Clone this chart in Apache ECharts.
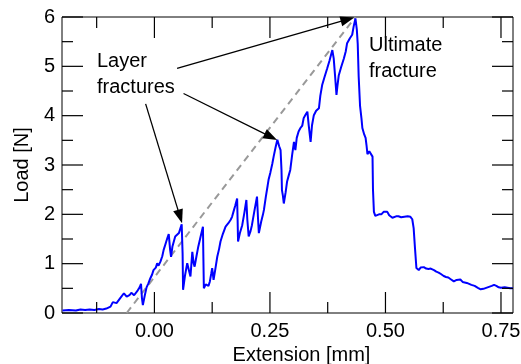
<!DOCTYPE html>
<html>
<head>
<meta charset="utf-8">
<script src="https://cdn.jsdelivr.net/npm/echarts@6/dist/echarts.min.js"></script>
<style>
  html, body { margin: 0; padding: 0; background: #fff; }
  #chart { width: 521px; height: 364px; }
</style>
</head>
<body>
<div id="chart"></div>
<script>
// load–extension trace
var extension = [
  -0.199, -0.185, -0.170, -0.160, -0.150, -0.140, -0.130, -0.120, -0.112, -0.104,
  -0.100, -0.095, -0.090, -0.086, -0.082, -0.078, -0.074, -0.070, -0.066, -0.063,
  -0.060, -0.057, -0.054, -0.050, -0.047, -0.044, -0.040, -0.036, -0.032, -0.029,
  -0.027, -0.025, -0.021, -0.017, -0.013, -0.009, -0.005, -0.002, 0.003, 0.006,
  0.009, 0.013, 0.017, 0.020, 0.024, 0.028, 0.031, 0.034, 0.036, 0.039,
  0.042, 0.045, 0.049, 0.053, 0.056, 0.059, 0.061, 0.062, 0.066, 0.071,
  0.075, 0.078, 0.082, 0.085, 0.087, 0.091, 0.095, 0.100, 0.105, 0.106,
  0.107, 0.111, 0.114, 0.117, 0.120, 0.123, 0.125, 0.128, 0.132, 0.136,
  0.140, 0.143, 0.148, 0.154, 0.160, 0.165, 0.168, 0.171, 0.175, 0.179,
  0.180, 0.181, 0.185, 0.190, 0.195, 0.199, 0.201, 0.204, 0.208, 0.211,
  0.216, 0.222, 0.224, 0.226, 0.231, 0.235, 0.237, 0.241, 0.245, 0.247,
  0.251, 0.255, 0.258, 0.262, 0.266, 0.270, 0.273, 0.275, 0.276, 0.278,
  0.280, 0.284, 0.287, 0.291, 0.294, 0.298, 0.302, 0.305, 0.308, 0.312,
  0.316, 0.320, 0.323, 0.327, 0.331, 0.334, 0.338, 0.341, 0.345, 0.350,
  0.356, 0.359, 0.363, 0.368, 0.374, 0.379, 0.385, 0.388, 0.391, 0.394,
  0.396, 0.399, 0.404, 0.410, 0.414, 0.417, 0.420, 0.423, 0.428, 0.431,
  0.435, 0.438, 0.440, 0.442, 0.445, 0.448, 0.450, 0.454, 0.457, 0.459,
  0.461, 0.465, 0.468, 0.472, 0.473, 0.475, 0.478, 0.482, 0.486, 0.491,
  0.496, 0.500, 0.504, 0.508, 0.511, 0.515, 0.518, 0.523, 0.528, 0.534,
  0.541, 0.548, 0.554, 0.558, 0.561, 0.564, 0.567, 0.570, 0.572, 0.576,
  0.580, 0.583, 0.588, 0.593, 0.598, 0.605, 0.610, 0.615, 0.620, 0.626,
  0.631, 0.636, 0.642, 0.648, 0.654, 0.658, 0.662, 0.667, 0.671, 0.676,
  0.680, 0.686, 0.693, 0.700, 0.706, 0.712, 0.718, 0.724, 0.730, 0.735,
  0.740, 0.745, 0.750, 0.753, 0.758, 0.764, 0.770, 0.776
];
var load = [
  0.05, 0.06, 0.05, 0.07, 0.06, 0.07, 0.06, 0.08, 0.07, 0.09,
  0.08, 0.13, 0.22, 0.25, 0.20, 0.23, 0.30, 0.34, 0.40, 0.36,
  0.33, 0.30, 0.36, 0.41, 0.37, 0.36, 0.40, 0.46, 0.52, 0.59,
  0.30, 0.16, 0.35, 0.52, 0.60, 0.70, 0.78, 0.87, 0.92, 1.01,
  0.96, 1.04, 1.15, 1.28, 1.40, 1.52, 1.60, 1.28, 1.14, 1.35,
  1.45, 1.55, 1.58, 1.62, 1.66, 1.80, 1.20, 0.47, 0.75, 1.01,
  0.85, 0.74, 1.24, 1.00, 0.94, 1.15, 1.35, 1.55, 1.75, 1.10,
  0.50, 0.58, 0.60, 0.55, 0.64, 0.80, 0.91, 0.67, 0.90, 1.14,
  1.30, 1.45, 1.60, 1.75, 1.82, 1.89, 1.95, 2.05, 2.18, 2.32,
  1.90, 1.45, 1.62, 1.78, 2.05, 2.29, 1.90, 1.55, 1.66, 1.78,
  2.05, 2.36, 1.95, 1.62, 1.85, 2.00, 2.09, 2.35, 2.58, 2.70,
  2.85, 3.02, 3.17, 3.35, 3.51, 3.38, 3.30, 2.90, 2.49, 2.38,
  2.22, 2.45, 2.66, 2.80, 2.90, 3.20, 3.47, 3.30, 3.55, 3.68,
  3.75, 3.80, 3.95, 4.02, 4.08, 3.80, 3.47, 3.80, 4.01, 4.10,
  4.15, 4.40, 4.62, 4.78, 4.96, 5.12, 5.33, 5.16, 4.80, 4.42,
  4.60, 4.82, 4.98, 5.16, 5.30, 5.47, 5.50, 5.57, 5.64, 5.80,
  5.97, 5.75, 5.45, 4.80, 4.20, 3.95, 3.75, 3.62, 3.55, 3.40,
  3.22, 3.28, 3.27, 3.17, 2.50, 2.05, 1.97, 1.95, 2.00, 2.00,
  2.05, 2.02, 2.05, 1.98, 1.99, 1.93, 1.92, 1.96, 1.96, 1.94,
  1.95, 1.96, 1.95, 1.90, 1.72, 1.30, 0.91, 0.88, 0.87, 0.92,
  0.90, 0.93, 0.90, 0.89, 0.90, 0.87, 0.84, 0.82, 0.79, 0.75,
  0.73, 0.72, 0.68, 0.64, 0.67, 0.70, 0.68, 0.63, 0.62, 0.61,
  0.59, 0.57, 0.55, 0.51, 0.48, 0.49, 0.51, 0.53, 0.55, 0.57,
  0.55, 0.52, 0.51, 0.50, 0.52, 0.51, 0.50, 0.50
];

// dashed stiffness line
var stiffExt = [-0.06, 0.435];
var stiffLoad = [0, 6];

// tick positions
var xMajor = [0, 0.25, 0.5, 0.75];
var xMinor = [-0.125, 0.125, 0.375, 0.625];
var yMajor = [0, 1, 2, 3, 4, 5, 6];
var yMinor = [0.5, 1.5, 2.5, 3.5, 4.5, 5.5];

// annotation arrows: [fromExt, fromLoad, toExt, toLoad]
var arrows = [
  [0.049, 4.96, 0.418, 5.95],
  [0.063, 4.45, 0.252, 3.57],
  [-0.019, 4.24, 0.0554, 1.954]
];

var FONT = '"Liberation Sans", Arial, sans-serif';
var FS = 20;
var xMin = -0.2, xMax = 0.776, yMin = 0, yMax = 6;
var MAJOR = 21, MINOR = 11;

var curve = extension.map(function (x, i) { return [x, load[i]]; });
var stiff = stiffExt.map(function (x, i) { return [x, stiffLoad[i]]; });

// inward ticks on all four sides: [x, y, dx(px), dy(px)]
var ticks = [];
xMajor.forEach(function (v) { ticks.push([v, yMin, 0, -MAJOR], [v, yMax, 0, MAJOR]); });
xMinor.forEach(function (v) { ticks.push([v, yMin, 0, -MINOR], [v, yMax, 0, MINOR]); });
yMajor.forEach(function (v) { ticks.push([xMin, v, MAJOR, 0], [xMax, v, -MAJOR, 0]); });
yMinor.forEach(function (v) { ticks.push([xMin, v, MINOR, 0], [xMax, v, -MINOR, 0]); });

var chart = echarts.init(document.getElementById('chart'));

chart.setOption({
    animation: false,
    grid: {
        left: 62, right: 8, top: 17, bottom: 51,
        outerBoundsMode: 'none',
        show: true, borderColor: '#000', borderWidth: 1, backgroundColor: 'transparent'
    },
    xAxis: {
        type: 'value', min: xMin, max: xMax,
        axisLine: {show: false},
        axisTick: {show: false},
        axisLabel: {
            customValues: xMajor, margin: 8,
            color: '#000', fontSize: FS, fontFamily: FONT,
            formatter: function (v) { return v.toFixed(2); }
        },
        splitLine: {show: false},
        name: 'Extension [mm]',
        nameLocation: 'middle',
        nameGap: 30,
        nameTextStyle: {color: '#000', fontSize: FS, fontFamily: FONT, padding: [0, 0, 0, 28]}
    },
    yAxis: {
        type: 'value', min: yMin, max: yMax, interval: 1,
        axisLine: {show: false},
        axisTick: {show: false},
        axisLabel: {margin: 7, color: '#000', fontSize: FS, fontFamily: FONT},
        splitLine: {show: false},
        name: 'Load [N]',
        nameLocation: 'middle',
        nameGap: 29,
        nameTextStyle: {color: '#000', fontSize: FS, fontFamily: FONT}
    },
    graphic: [
        {type: 'text', left: 97, top: 48,
         style: {text: 'Layer\nfractures', font: FS + 'px ' + FONT, lineHeight: 26, fill: '#000'}},
        {type: 'text', left: 369, top: 32,
         style: {text: 'Ultimate\nfracture', font: FS + 'px ' + FONT, lineHeight: 26, fill: '#000'}}
    ],
    series: [
        {
            type: 'custom',
            data: ticks,
            clip: false,
            silent: true,
            z: 5,
            renderItem: function (params, api) {
                var p = api.coord([api.value(0), api.value(1)]);
                return {
                    type: 'line',
                    shape: {x1: p[0], y1: p[1], x2: p[0] + api.value(2), y2: p[1] + api.value(3)},
                    style: {stroke: '#000', lineWidth: 1.2}
                };
            }
        },
        {
            type: 'line',
            data: stiff,
            showSymbol: false,
            lineStyle: {color: '#999', width: 2, type: [7, 5]},
            silent: true,
            markLine: {
                silent: true,
                symbol: ['none', 'triangle'],
                symbolSize: [10, 14],
                label: {show: false},
                lineStyle: {color: '#000', width: 1.3, type: 'solid'},
                itemStyle: {color: '#000'},
                data: arrows.map(function (a) {
                    return [{coord: [a[0], a[1]]}, {coord: [a[2], a[3]]}];
                })
            }
        },
        {
            type: 'line',
            data: curve,
            showSymbol: false,
            lineStyle: {color: '#0000ff', width: 2},
            silent: true
        }
    ]
});
</script>
</body>
</html>
